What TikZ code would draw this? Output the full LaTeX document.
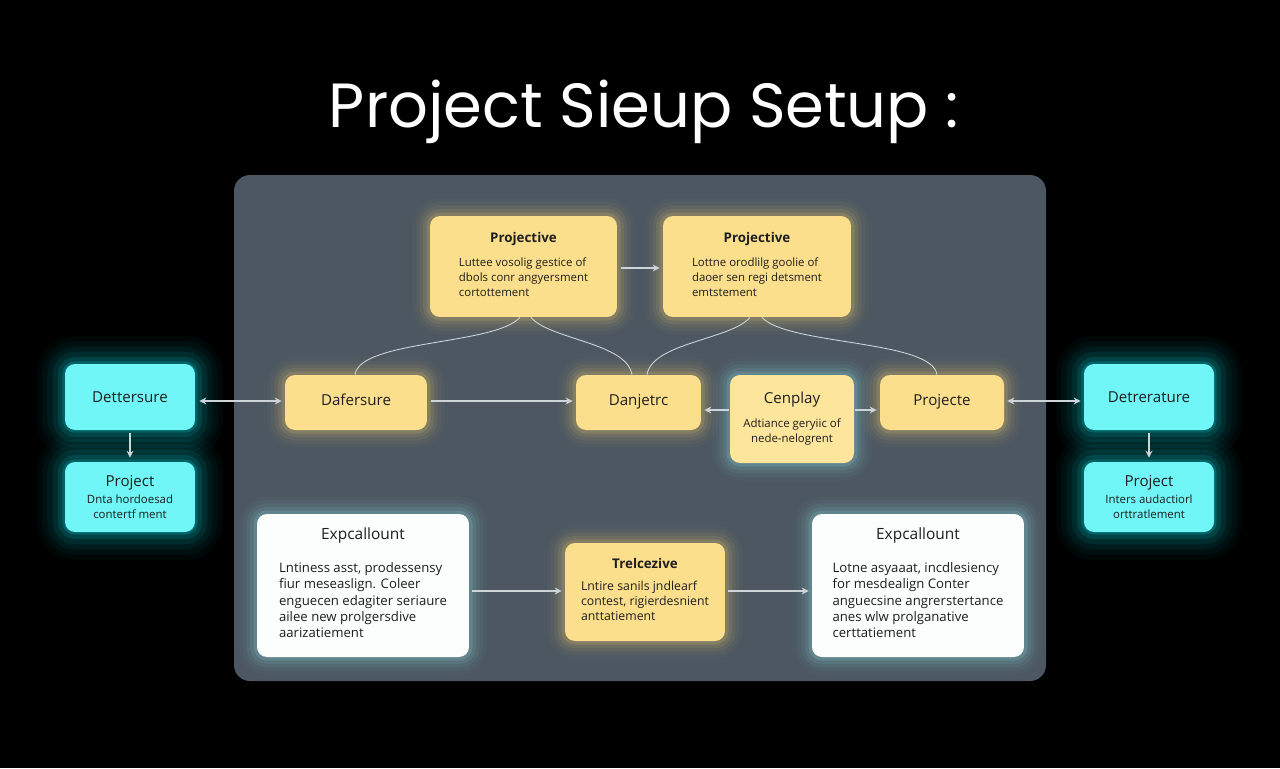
\documentclass[tikz,border=0pt]{standalone}
\usepackage{fontspec}
\setmainfont{Open Sans}
\newfontfamily\titlefont{Poppins}
\usetikzlibrary{arrows.meta,calc}
\definecolor{panel}{RGB}{76,87,97}
\definecolor{yel}{RGB}{252,223,140}
\definecolor{yelglow}{RGB}{255,214,110}
\definecolor{cya}{RGB}{112,246,246}
\definecolor{cyglow}{RGB}{0,225,235}
\definecolor{wht}{RGB}{252,253,253}
\definecolor{whglow}{RGB}{150,232,238}
\definecolor{cenf}{RGB}{253,229,155}
\definecolor{txt}{RGB}{30,30,30}
\definecolor{conn}{RGB}{205,212,218}
\tikzset{
  glow/.style={
    preaction={draw=#1,line width=20pt,draw opacity=0.03},
    preaction={draw=#1,line width=16pt,draw opacity=0.04},
    preaction={draw=#1,line width=12pt,draw opacity=0.06},
    preaction={draw=#1,line width=8pt,draw opacity=0.09},
    preaction={draw=#1,line width=4pt,draw opacity=0.15}},
  bigglow/.style={
    preaction={draw=#1,line width=32pt,draw opacity=0.03},
    preaction={draw=#1,line width=26pt,draw opacity=0.04},
    preaction={draw=#1,line width=20pt,draw opacity=0.06},
    preaction={draw=#1,line width=14pt,draw opacity=0.09},
    preaction={draw=#1,line width=8pt,draw opacity=0.13},
    preaction={draw=#1,line width=3pt,draw opacity=0.2}},
  box/.style={rounded corners=0.2cm, text=txt, inner sep=0pt, align=center,
    font=\fontsize{6.5}{8.6}\selectfont},
  ybox/.style={box, fill=yel, glow=yelglow},
  cbox/.style={box, fill=cya, bigglow=cyglow},
  wbox/.style={box, fill=wht, glow=whglow, font=\fontsize{7.5}{9.3}\selectfont},
  arr/.style={draw=conn, line width=0.6pt, -{Stealth[length=4pt,width=4pt]}},
  arrboth/.style={draw=conn, line width=0.6pt, {Stealth[length=4pt,width=4pt]}-{Stealth[length=4pt,width=4pt]}},
  curve/.style={draw=conn, line width=0.5pt},
}
\newcommand\btl[1]{{\fontsize{7.6}{9}\selectfont\bfseries #1}}
\newcommand\hdr[1]{{\fontsize{8.6}{10}\selectfont #1}}
\begin{document}
\begin{tikzpicture}[x=0.02cm,y=-0.02cm]
\fill[black] (0,0) rectangle (1280,768);
\useasboundingbox (0,0) rectangle (1280,768);

\node[text=white, font=\titlefont\fontsize{35.5}{40}\selectfont, anchor=base] (title) at (644,127) {Project Sieup Setup :};

\fill[panel, rounded corners=0.32cm] (234,175) rectangle (1046,681);

% top yellow boxes
\node[ybox, minimum width=3.74cm, minimum height=2.02cm] (P1) at (523.5,266.5)
  {\btl{Projective}\\[5pt]\begin{tabular}{@{}l@{}}Luttee vosolig gestice of\\dbols conr angyersment\\cortottement\end{tabular}};
\node[ybox, minimum width=3.76cm, minimum height=2.02cm] (P2) at (757,266.5)
  {\btl{Projective}\\[5pt]\begin{tabular}{@{}l@{}}Lottne orodlilg goolie of\\daoer sen regi detsment\\emtstement\end{tabular}};

% middle row
\node[ybox, minimum width=2.84cm, minimum height=1.10cm] (Daf) at (356,402.5) {\hdr{Dafersure}\\[-5.5pt]};
\node[ybox, minimum width=2.50cm, minimum height=1.10cm] (Dan) at (638.5,402.5) {\hdr{Danjetrc}\\[-5.5pt]};
\node[box, fill=cenf, glow=whglow, minimum width=2.48cm, minimum height=1.76cm] (Cen) at (792,419)
  {\hdr{Cenplay}\\[5pt]Adtiance geryiic of\\nede-nelogrent};
\node[ybox, minimum width=2.48cm, minimum height=1.10cm] (Pje) at (942,402.5) {\hdr{Projecte}\\[-5.5pt]};

% side cyan boxes
\node[cbox, minimum width=2.60cm, minimum height=1.32cm] (LD) at (130,397) {\hdr{Dettersure}};
\node[cbox, minimum width=2.60cm, minimum height=1.40cm] (LP) at (130,497)
  {\hdr{Project}\\[1pt]Dnta hordoesad\\contertf ment};
\node[cbox, minimum width=2.60cm, minimum height=1.32cm] (RD) at (1149,397) {\hdr{Detrerature}};
\node[cbox, minimum width=2.60cm, minimum height=1.40cm] (RP) at (1149,497)
  {\hdr{Project}\\[1pt]Inters audactiorl\\orttratlement};

% bottom row
\node[wbox, minimum width=4.24cm, minimum height=2.86cm] (EL) at (363,585.5)
  {{\fontsize{8.8}{10}\selectfont Expcallount}\\[9pt]\begin{tabular}{@{}l@{}}Lntiness asst, prodessensy\\fiur meseaslign. Coleer\\enguecen edagiter seriaure\\ailee new prolgersdive\\aarizatiement\end{tabular}};
\node[ybox, minimum width=3.20cm, minimum height=1.96cm, font=\fontsize{7}{8.8}\selectfont] (T) at (645,592)
  {\btl{Trelcezive}\\[5pt]\begin{tabular}{@{}l@{}}Lntire sanils jndlearf\\contest, rigierdesnient\\anttatiement\end{tabular}};
\node[wbox, minimum width=4.24cm, minimum height=2.86cm] (ER) at (918,585.5)
  {{\fontsize{8.8}{10}\selectfont Expcallount}\\[9pt]\begin{tabular}{@{}l@{}}Lotne asyaaat, incdlesiency\\for mesdealign Conter\\anguecsine angrerstertance\\anes wlw prolganative\\certtatiement\end{tabular}};

% straight connectors
\draw[arr] ($(P1.east)+(4,1.5)$) -- ($(P2.west)+(-3,1.5)$);
\draw[arrboth] ($(LD.east|-Daf.west)+(4,-1.5)$) -- ($(Daf.west)+(-3,-1.5)$);
\draw[arr] ($(Daf.east)+(4,-1.5)$) -- ($(Dan.west)+(-3,-1.5)$);
\draw[arr] ($(Cen.west)+(-1,-9)$) -- ($(Dan.east|-Cen.west)+(3,-9)$);
\draw[arr] ($(Cen.east)+(1,-9)$) -- ($(Pje.west|-Cen.east)+(-3,-9)$);
\draw[arrboth] ($(Pje.east)+(3,-1.5)$) -- ($(RD.west|-Pje.east)+(-3,-1.5)$);
\draw[arr] ($(LD.south)+(0,3)$) -- ($(LP.north)+(0,-4)$);
\draw[arr] ($(RD.south)+(0,3)$) -- ($(RP.north)+(0,-4)$);
\draw[arr] ($(EL.east|-T.west)+(3,-1)$) -- ($(T.west)+(-3,-1)$);
\draw[arr] ($(T.east)+(3,-1)$) -- ($(ER.west|-T.east)+(-3,-1)$);

% curved connectors
\draw[curve] ($(P1.south)+(-3.5,0)$) .. controls +(-25,28) and +(5,-35) .. ($(Daf.north)+(-1,0)$);
\draw[curve] ($(P1.south)+(7.5,0)$) .. controls +(18,22) and +(-5,-32) .. ($(Dan.north)+(-6.5,0)$);
\draw[curve] ($(P2.south)+(-7,0)$) .. controls +(-18,22) and +(5,-32) .. ($(Dan.north)+(8.5,0)$);
\draw[curve] ($(P2.south)+(5,0)$) .. controls +(25,28) and +(-5,-35) .. ($(Pje.north)+(-5,0)$);
\end{tikzpicture}
\end{document}
